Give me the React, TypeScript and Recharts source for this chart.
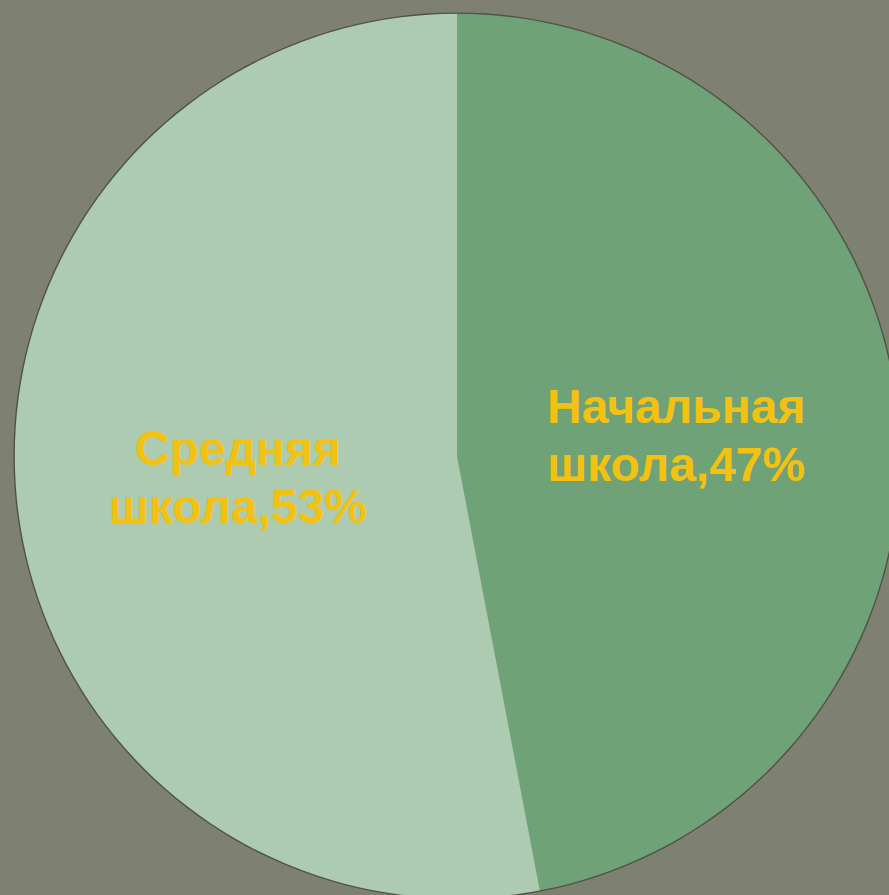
import React from 'react';
import { PieChart, Pie, Cell } from 'recharts';

const categories = ['Начальная школа', 'Средняя школа'];
const shares = [47, 53];
const labelLines = [
  ['Начальная', 'школа,47%'],
  ['Средняя', 'школа,53%'],
];
const sliceColors = ['#6fa277', '#adcbb1'];

const data = categories.map((name, i) => ({ name, value: shares[i] }));
const outline = [{ name: 'outline', value: 1 }];

const RAD = Math.PI / 180;

const renderLabel = (props: any) => {
  const { cx, cy, midAngle, outerRadius, index } = props;
  const r = outerRadius * 0.497;
  const x = cx + r * Math.cos(-midAngle * RAD);
  const y = cy + r * Math.sin(-midAngle * RAD);
  const [first, second] = labelLines[index];
  return (
    <text
      x={x}
      y={y}
      textAnchor="middle"
      fill="#f3c111"
      fontFamily="'Liberation Sans', Arial, sans-serif"
      fontWeight="bold"
      fontSize={48}
    >
      <tspan x={x} y={y - 12}>{first}</tspan>
      <tspan x={x} y={y + 46}>{second}</tspan>
    </text>
  );
};

export default function App() {
  return (
    <div style={{ width: 889, height: 895, background: '#7e8071', overflow: 'hidden' }}>
      <style>{`body { margin: 0; }`}</style>
      <PieChart width={889} height={895} margin={{ top: 0, right: 0, bottom: 0, left: 0 }}>
        <Pie
          data={data}
          dataKey="value"
          nameKey="name"
          cx={457}
          cy={456}
          outerRadius={443}
          startAngle={90}
          endAngle={-270}
          stroke="none"
          label={renderLabel}
          labelLine={false}
          isAnimationActive={false}
        >
          {data.map((entry, i) => (
            <Cell key={entry.name} fill={sliceColors[i]} />
          ))}
        </Pie>
        {/* thin ring round the pie, no seam line */}
        <Pie
          data={outline}
          dataKey="value"
          cx={457}
          cy={456}
          innerRadius={442.2}
          outerRadius={443.6}
          fill="#4e5347"
          stroke="none"
          isAnimationActive={false}
        />
      </PieChart>
    </div>
  );
}
